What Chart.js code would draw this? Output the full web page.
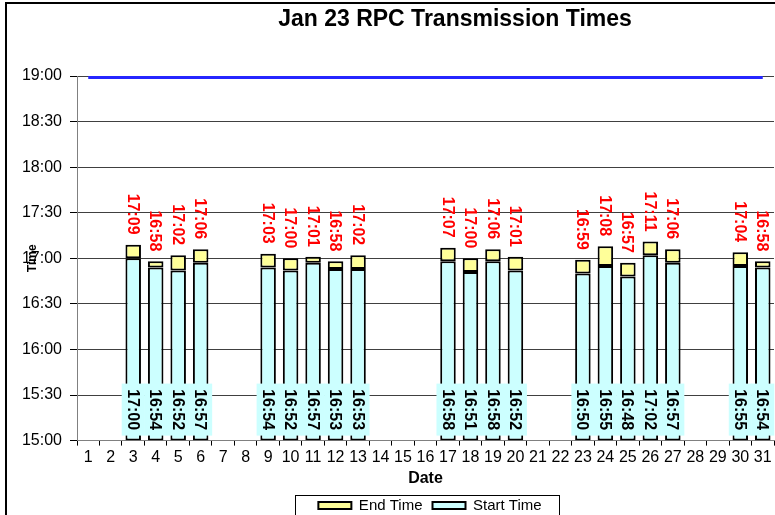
<!DOCTYPE html>
<html>
<head>
<meta charset="utf-8">
<script src="https://cdn.jsdelivr.net/npm/chart.js@4.4.1/dist/chart.umd.min.js"></script>
<style>
  html, body { margin: 0; padding: 0; background: #fff; overflow: hidden; }
  #wrap { width: 775px; height: 515px; overflow: hidden; position: relative; }
  #wrap canvas { position: absolute; left: 0; top: 0; }
</style>
</head>
<body>
<div id="wrap"><canvas id="chart" width="860" height="530" style="width:860px;height:530px"></canvas></div>
<script>
const chartTitle = 'Jan 23 RPC Transmission Times';
const dates = ['1', '2', '3', '4', '5', '6', '7', '8', '9', '10', '11', '12', '13', '14', '15', '16',
  '17', '18', '19', '20', '21', '22', '23', '24', '25', '26', '27', '28', '29', '30', '31'];
const startTimes = [null, null, '17:00', '16:54', '16:52', '16:57', null, null, '16:54', '16:52', '16:57',
  '16:53', '16:53', null, null, null, '16:58', '16:51', '16:58', '16:52', null, null, '16:50', '16:55',
  '16:48', '17:02', '16:57', null, null, '16:55', '16:54'];
const endTimes = [null, null, '17:09', '16:58', '17:02', '17:06', null, null, '17:03', '17:00', '17:01',
  '16:58', '17:02', null, null, null, '17:07', '17:00', '17:06', '17:01', null, null, '16:59', '17:08',
  '16:57', '17:11', '17:06', null, null, '17:04', '16:58'];
const deadline = [{ x: '1', y: '19:00' }, { x: '31', y: '19:00' }];
const axisMin = '15:00';
const axisMax = '19:00';

const FONT = '"Liberation Sans", Arial, sans-serif';

const toMin = (t) => (t == null ? null : parseInt(t.slice(0, 2), 10) * 60 + parseInt(t.slice(3), 10));
const fmt = (m) => `${Math.floor(m / 60)}:${String(m % 60).padStart(2, '0')}`;

// floating bars: start bar sits on the axis floor, end bar sits on top of it
const startData = startTimes.map((s) => (s ? [toMin(axisMin), toMin(s)] : null));
const endData = startTimes.map((s, i) => (s ? [toMin(s), toMin(endTimes[i])] : null));

const timeLabels = {
  id: 'timeLabels',
  afterDatasetsDraw(chart) {
    const { ctx, scales: { x, y } } = chart;
    const base = y.getPixelForValue(toMin(axisMin));
    ctx.save();
    ctx.font = `bold 16px ${FONT}`;
    ctx.textBaseline = 'middle';
    startTimes.forEach((s, i) => {
      if (!s) return;
      const cx = x.getPixelForValue(i);

      ctx.fillStyle = '#ccffff';
      ctx.fillRect(cx - 11.5, base - 57, 23, 52);
      ctx.save();
      ctx.translate(cx, base - 31);
      ctx.rotate(Math.PI / 2);
      ctx.fillStyle = '#000';
      ctx.textAlign = 'center';
      ctx.fillText(s, 0, 1);
      ctx.restore();

      const top = y.getPixelForValue(toMin(endTimes[i]));
      ctx.save();
      ctx.translate(cx, top - 10);
      ctx.rotate(Math.PI / 2);
      ctx.fillStyle = '#ff0000';
      ctx.textAlign = 'right';
      ctx.fillText(endTimes[i], 0, 1);
      ctx.restore();
    });
    ctx.restore();
  },
};

const frame = {
  id: 'frame',
  beforeDraw(chart) {
    const { ctx, width, height } = chart;
    ctx.save();
    ctx.fillStyle = '#fff';
    ctx.fillRect(0, 0, width, height);
    ctx.restore();
  },
  afterDraw(chart) {
    const { ctx, width, height } = chart;
    ctx.save();
    ctx.strokeStyle = '#000';
    ctx.lineWidth = 2;
    ctx.strokeRect(6, 3, width - 10, height - 6);

    ctx.fillStyle = '#000';
    ctx.font = `bold 23px ${FONT}`;
    ctx.textAlign = 'center';
    ctx.textBaseline = 'middle';
    ctx.fillText(chartTitle, 455, 20);

    const boxes = chart.legend.legendHitBoxes;
    if (boxes && boxes.length) {
      const first = boxes[0];
      const last = boxes[boxes.length - 1];
      ctx.lineWidth = 1;
      ctx.strokeStyle = '#000';
      ctx.strokeRect(Math.round(first.left - 23) + 0.5, Math.round(first.top - 3) + 0.5,
        Math.round(last.left + last.width - first.left + 41), 40);
    }
    ctx.restore();
  },
};

new Chart(document.getElementById('chart'), {
  type: 'bar',
  data: {
    labels: dates,
    datasets: [
      {
        label: 'Start Time',
        data: startData,
        backgroundColor: '#ccffff',
        borderColor: '#000',
        borderWidth: 2,
        borderSkipped: false,
        barPercentage: 0.69,
        categoryPercentage: 1,
        order: 2,
      },
      {
        label: 'End Time',
        data: endData,
        backgroundColor: '#ffff99',
        borderColor: '#000',
        borderWidth: 2,
        borderSkipped: false,
        barPercentage: 0.69,
        categoryPercentage: 1,
        order: 1,
      },
      {
        type: 'line',
        label: 'Deadline',
        data: deadline.map((p) => ({ x: p.x, y: toMin(p.y) })),
        borderColor: '#2626ff',
        borderWidth: 6,
        pointRadius: 0,
        order: 0,
      },
    ],
  },
  options: {
    responsive: false,
    animation: false,
    layout: { padding: { top: 76, left: 0, right: 0, bottom: 7 } },
    scales: {
      x: {
        stacked: true,
        grid: { drawOnChartArea: false, drawTicks: true, tickLength: 5, tickColor: '#000', offset: true },
        border: { color: '#808080' },
        ticks: { color: '#000', font: { family: FONT, size: 16 }, padding: 2, maxRotation: 0, autoSkip: false },
        title: { display: true, text: 'Date', color: '#000', font: { family: FONT, size: 16, weight: 'bold' }, padding: 0 },
      },
      y: {
        min: toMin(axisMin),
        max: toMin(axisMax),
        grid: { color: '#404040', tickColor: '#000', tickLength: 7 },
        border: { color: '#808080' },
        ticks: {
          stepSize: 30,
          color: '#000',
          padding: 8,
          font: { family: FONT, size: 16 },
          callback: (v) => fmt(v),
        },
        title: { display: true, text: 'Time', color: '#000', font: { family: FONT, size: 12, weight: 'bold' }, padding: { top: 25, bottom: 0 } },
        afterFit: (s) => { s.width = 77; },
      },
      yR: {
        type: 'linear',
        position: 'right',
        display: true,
        grid: { display: false },
        ticks: { display: false },
        border: { display: false },
        afterFit: (s) => { s.width = 86; },
      },
    },
    plugins: {
      title: { display: false },
      tooltip: { enabled: false },
      legend: {
        position: 'bottom',
        labels: {
          boxWidth: 33,
          boxHeight: 7,
          padding: 10,
          color: '#000',
          font: { family: FONT, size: 15 },
          filter: (item) => item.datasetIndex < 2,
        },
      },
    },
  },
  plugins: [timeLabels, frame],
});
</script>
</body>
</html>
